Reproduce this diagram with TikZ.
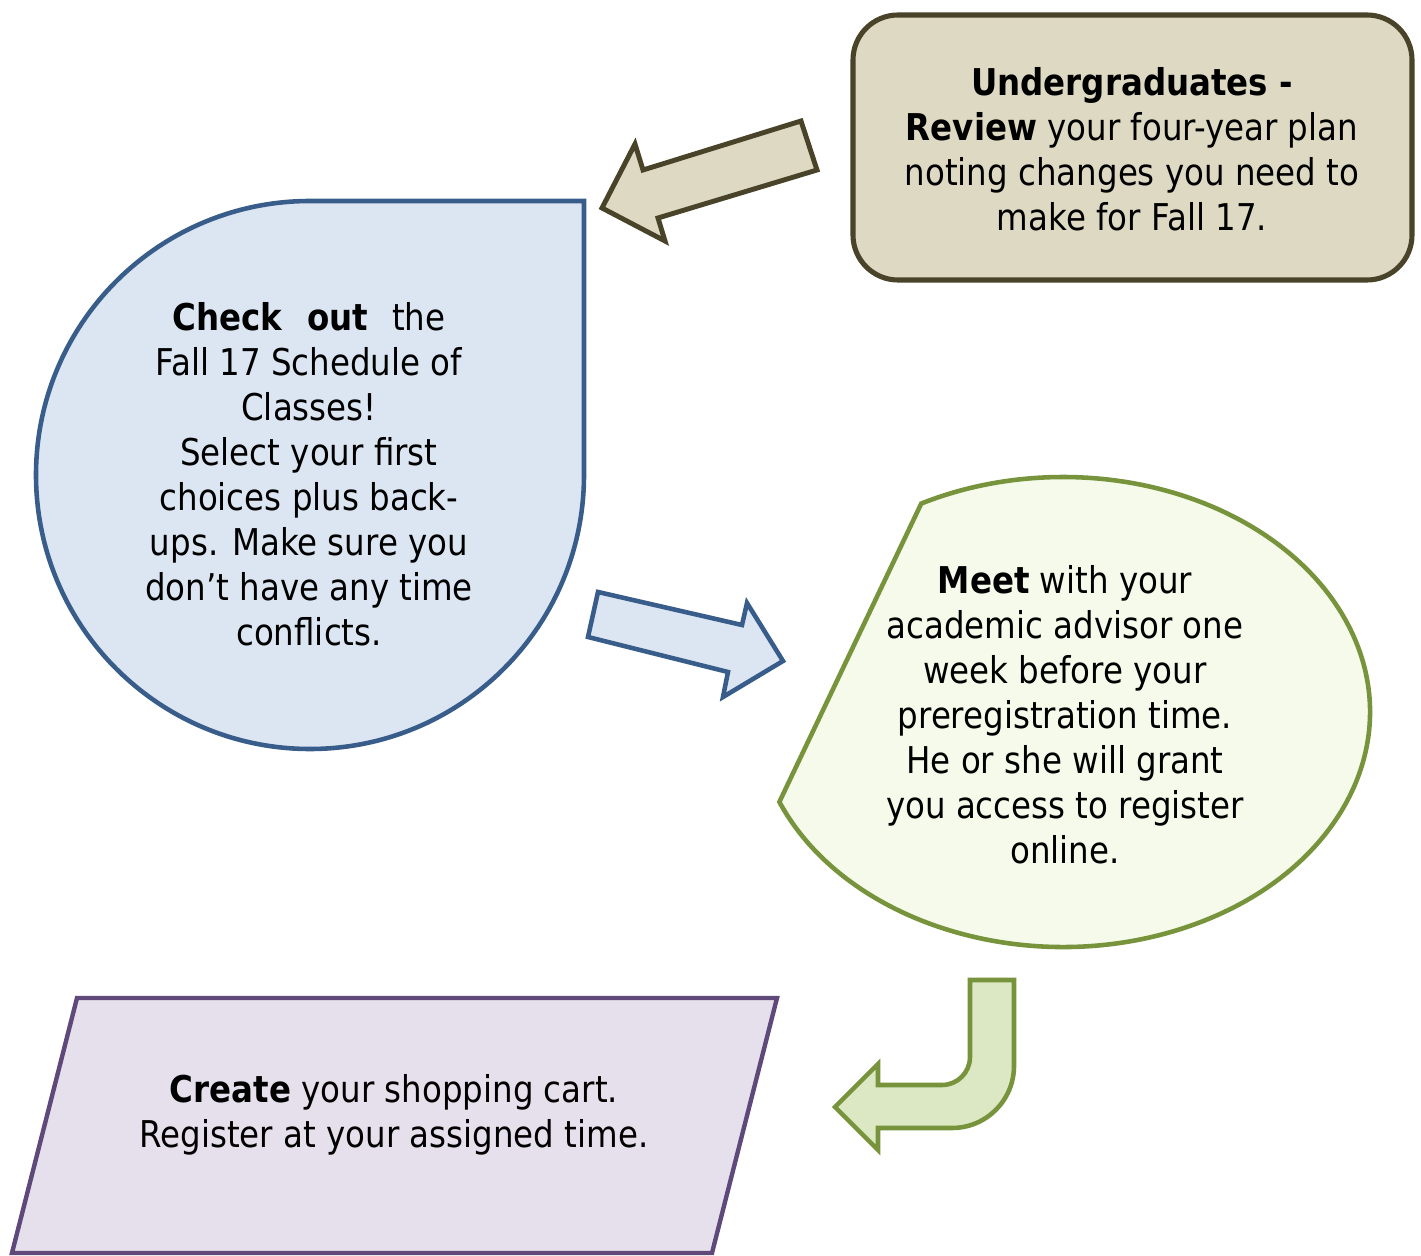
\documentclass[tikz,border=0pt]{standalone}
\usepackage{fontspec}
\setmainfont[FakeStretch=0.88]{DejaVu Sans}
\usepackage{xcolor}

\definecolor{tanfill}{HTML}{DDD9C3}
\definecolor{tanline}{HTML}{494429}
\definecolor{bluefill}{HTML}{DCE6F2}
\definecolor{blueline}{HTML}{385D8A}
\definecolor{dropfill}{HTML}{F5FAEA}
\definecolor{greenfill}{HTML}{DCE8C4}
\definecolor{greenline}{HTML}{77933C}
\definecolor{purplefill}{HTML}{E5E0EC}
\definecolor{purpleline}{HTML}{5F497A}

\begin{document}
\begin{tikzpicture}[x=0.02cm, y=-0.02cm,
                    txt/.style={align=center, inner sep=0pt, font=\fontsize{21}{25.6}\selectfont},
                    tanbox/.style={line width=2.9pt, draw=tanline, fill=tanfill, rounded corners=0.9cm},
                    tanarrow/.style={line width=2.8pt, draw=tanline, fill=tanfill},
                    bluebox/.style={line width=2.6pt, draw=blueline, fill=bluefill},
                    greenbox/.style={line width=2.6pt, draw=greenline, fill=dropfill},
                    greenarrow/.style={line width=2.6pt, draw=greenline, fill=greenfill},
                    purplebox/.style={line width=2.5pt, draw=purpleline, fill=purplefill},
                   ]

\useasboundingbox (0,0) rectangle (1421,1256);

% step 1: review the plan
\draw[tanbox] (853,15) rectangle (1412,280);
\node[txt] (review) at (1132,149) {\textbf{Undergraduates -}\\
  \textbf{Review} your four-year plan\\noting changes you need to\\make for Fall 17.};

\draw[tanarrow] (801,121) -- (817,170) -- (658,218) -- (665,241) -- (602,208)
                -- (635,144) -- (643,170) -- cycle;

% step 2: schedule of classes
\draw[bluebox] (310,201) -- (584,201) -- (584,475)
               arc[start angle=0, end angle=270, radius=274] -- cycle;
\node[txt] (schedule) at (309,474) {\textbf{Check}\hspace{0.65em}\textbf{out}\hspace{0.65em}the\\
  Fall 17 Schedule of\\Classes!\\Select your first\\choices plus back-\\
  ups. Make sure you\\don’t have any time\\conflicts.};

\draw[bluebox] (598,592) -- (742,625) -- (747,603) -- (783,661) -- (723,697)
               -- (728,672) -- (588,637) -- cycle;

% step 3: meet the advisor
\draw[greenbox] (1063,712) ++(157.5:307 and 235)
                arc[start angle=157.5, end angle=-117.5, x radius=307, y radius=235] -- cycle;
\node[txt] (advisor) at (1065,715) {\textbf{Meet} with your\\academic advisor one\\
  week before your\\preregistration time.\\He or she will grant\\
  you access to register\\online.};

\draw[greenarrow] (970,980) -- (1014,980) -- (1014,1066)
                  arc[start angle=0, end angle=90, radius=62] -- (878,1128)
                  -- (878,1150) -- (835,1107) -- (878,1064) -- (878,1085) -- (942,1085)
                  arc[start angle=90, end angle=0, radius=28] -- cycle;

% step 4: shopping cart
\draw[purplebox] (77,998) -- (777,998) -- (712,1253) -- (12,1253) -- cycle;
\node[txt] (cart) at (394,1115) {\textbf{Create} your shopping cart.\\
  Register at your assigned time.};

\end{tikzpicture}
\end{document}
